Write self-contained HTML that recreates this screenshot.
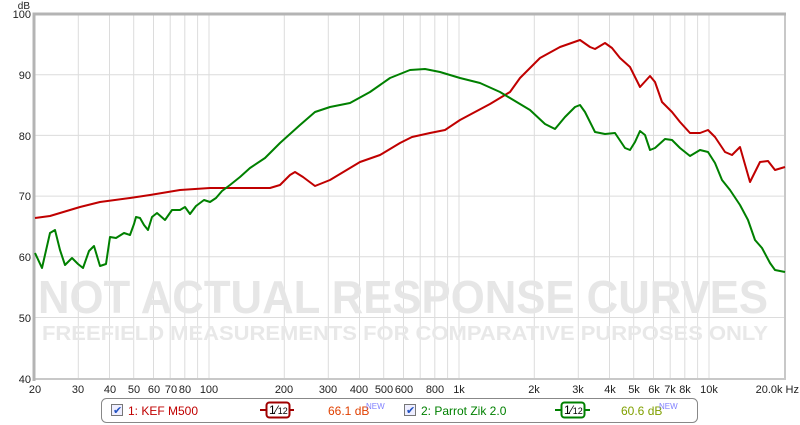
<!DOCTYPE html>
<html><head><meta charset="utf-8"><style>
html,body{margin:0;padding:0;background:#fff;}
svg{display:block;font-family:"Liberation Sans",sans-serif;}
</style></head><body>
<svg width="800" height="425" viewBox="0 0 800 425">
<rect width="800" height="425" fill="#fff"/>
<g stroke="#dcdcdc" stroke-width="1">
<line x1="78.3" y1="14" x2="78.3" y2="379"/><line x1="109.5" y1="14" x2="109.5" y2="379"/><line x1="133.7" y1="14" x2="133.7" y2="379"/><line x1="153.5" y1="14" x2="153.5" y2="379"/><line x1="170.2" y1="14" x2="170.2" y2="379"/><line x1="184.8" y1="14" x2="184.8" y2="379"/><line x1="197.6" y1="14" x2="197.6" y2="379"/><line x1="209" y1="14" x2="209" y2="379"/>
<line x1="284.3" y1="14" x2="284.3" y2="379"/><line x1="328.3" y1="14" x2="328.3" y2="379"/><line x1="359.5" y1="14" x2="359.5" y2="379"/><line x1="383.7" y1="14" x2="383.7" y2="379"/><line x1="403.5" y1="14" x2="403.5" y2="379"/><line x1="420.2" y1="14" x2="420.2" y2="379"/><line x1="434.8" y1="14" x2="434.8" y2="379"/><line x1="447.6" y1="14" x2="447.6" y2="379"/><line x1="459" y1="14" x2="459" y2="379"/>
<line x1="534.3" y1="14" x2="534.3" y2="379"/><line x1="578.3" y1="14" x2="578.3" y2="379"/><line x1="609.5" y1="14" x2="609.5" y2="379"/><line x1="633.7" y1="14" x2="633.7" y2="379"/><line x1="653.5" y1="14" x2="653.5" y2="379"/><line x1="670.2" y1="14" x2="670.2" y2="379"/><line x1="684.8" y1="14" x2="684.8" y2="379"/><line x1="697.6" y1="14" x2="697.6" y2="379"/><line x1="709" y1="14" x2="709" y2="379"/>
<line x1="34" y1="74.7" x2="785" y2="74.7"/><line x1="34" y1="135.4" x2="785" y2="135.4"/><line x1="34" y1="196.1" x2="785" y2="196.1"/><line x1="34" y1="256.8" x2="785" y2="256.8"/><line x1="34" y1="317.5" x2="785" y2="317.5"/>
</g>
<polyline points="34,379 785,379 785,14" fill="none" stroke="#c8c8c8" stroke-width="2"/>
<polyline points="34,381 34,14 786,14" fill="none" stroke="#b4b4b4" stroke-width="3"/>
<text x="38" y="313" textLength="730" lengthAdjust="spacingAndGlyphs" font-size="46" fill="#e6e6e6" font-weight="bold">NOT ACTUAL RESPONSE CURVES</text>
<text x="42" y="340" textLength="726" lengthAdjust="spacingAndGlyphs" font-size="20" fill="#e8e8e8" font-weight="bold">FREEFIELD MEASUREMENTS FOR COMPARATIVE PURPOSES ONLY</text>
<polyline fill="none" stroke="#c00000" stroke-width="2" stroke-linejoin="round" points="35,218 50,216 60,213 80,207 100,202 130,198 150,195 180,190 210,188 240,188 270,188 280,185 290,175 295,172 303,177 315,186 330,180 345,171 360,162 380,155 400,143 412,137 430,133 445,130 460,120 475,112 490,104 510,92 520,78 540,58 560,47 580,40 590,47 595,49 605,43 612,48 620,58 630,67 640,87 650,76 655,82 662,102 672,112 680,122 690,133 700,133 708,130 715,137 725,152 732,155 740,147 750,182 760,162 768,161 775,170 785,167"/>
<polyline fill="none" stroke="#008000" stroke-width="2" stroke-linejoin="round" points="35,253 42,268 50,233 55,230 60,250 65,265 72,258 78,264 83,268 89,251 94,246 100,266 106,264 110,237 116,238 124,233 130,235 134,224 136,217 140,218 144,225 148,230 152,217 157,213 165,220 172,210 180,210 185,207 190,214 196,206 204,200 210,202 216,198 222,191 230,185 240,177 250,168 265,158 280,143 300,125 315,112 330,107 350,103 370,92 390,78 410,70 425,69 440,72 460,78 480,83 500,92 515,101 530,110 545,124 555,129 565,117 575,107 580,105 585,112 595,132 605,134 615,133 625,148 630,150 635,142 640,131 645,135 650,150 655,148 665,139 672,140 680,148 690,156 700,150 708,152 715,163 722,180 730,190 740,205 748,220 755,240 762,248 770,263 775,270 785,272"/>
<g font-size="11" fill="#222">
<text x="30" y="9" text-anchor="end" font-size="10">dB</text>
<g text-anchor="end">
<text x="31" y="18">100</text><text x="31" y="79">90</text><text x="31" y="140">80</text><text x="31" y="200">70</text><text x="31" y="261">60</text><text x="31" y="322">50</text><text x="31" y="383">40</text></g>
<g text-anchor="middle">
<text x="35" y="393">20</text><text x="78" y="393">30</text><text x="110" y="393">40</text><text x="134" y="393">50</text><text x="154" y="393">60</text><text x="171" y="393">70</text><text x="185" y="393">80</text><text x="209" y="393">100</text><text x="284" y="393">200</text><text x="328" y="393">300</text><text x="359" y="393">400</text><text x="384" y="393">500</text><text x="404" y="393">600</text><text x="435" y="393">800</text><text x="459" y="393">1k</text><text x="534" y="393">2k</text><text x="578" y="393">3k</text><text x="610" y="393">4k</text><text x="634" y="393">5k</text><text x="654" y="393">6k</text><text x="670" y="393">7k</text><text x="685" y="393">8k</text><text x="709" y="393">10k</text></g>
<text x="799" y="393" text-anchor="end">20.0k Hz</text>
</g>
<rect x="101.5" y="398.5" width="596" height="24" rx="5" fill="#fff" stroke="#888"/>
<g font-size="12">
<rect x="111.5" y="404.5" width="11" height="11" fill="#eef" stroke="#777"/><text x="113" y="414" fill="#2050c0" font-size="11">✔</text>
<text x="128" y="415" fill="#c00000">1: KEF M500</text>
<line x1="260" y1="410" x2="294" y2="410" stroke="#a00000" stroke-width="2"/>
<rect x="266.5" y="402.5" width="23" height="15" rx="3" fill="#fff" stroke="#a00000" stroke-width="2"/>
<text x="269" y="414" fill="#000" font-size="12">1⁄<tspan font-size="9">12</tspan></text>
<text x="328" y="415" fill="#e04000">66.1 dB</text><text x="366" y="409" fill="#8080ff" font-size="8">NEW</text>
<rect x="404.5" y="404.5" width="11" height="11" fill="#eef" stroke="#777"/><text x="406" y="414" fill="#2050c0" font-size="11">✔</text>
<text x="421" y="415" fill="#008000">2: Parrot Zik 2.0</text>
<line x1="555" y1="410" x2="590" y2="410" stroke="#008000" stroke-width="2"/>
<rect x="561.5" y="402.5" width="23" height="15" rx="3" fill="#fff" stroke="#008000" stroke-width="2"/>
<text x="564" y="414" fill="#000" font-size="12">1⁄<tspan font-size="9">12</tspan></text>
<text x="621" y="415" fill="#80a000">60.6 dB</text><text x="659" y="409" fill="#8080ff" font-size="8">NEW</text>
</g>
</svg>
</body></html>
